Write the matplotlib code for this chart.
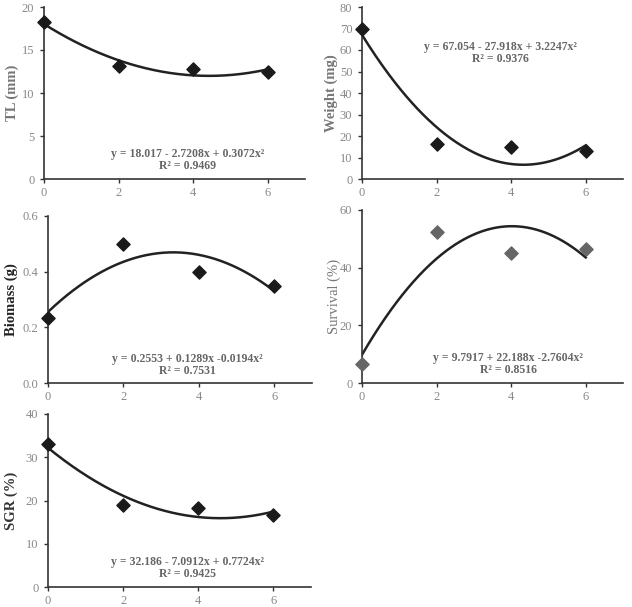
import matplotlib.pyplot as plt
import numpy as np

plt.rcParams['font.family'] = ['Liberation Serif', 'DejaVu Serif']

doses = [0, 2, 4, 6]

tl_vals = [18.3, 13.1, 12.8, 12.5]
weight_vals = [69.8, 16.2, 15.0, 12.8]
biomass_vals = [0.235, 0.50, 0.40, 0.35]
survival_vals = [6.5, 52.5, 45.0, 46.5]
sgr_vals = [33.0, 19.0, 18.2, 16.7]

# fitted quadratic coefficients (a, b, c) for y = a + b x + c x^2
tl_fit = [18.017, -2.7208, 0.3072]
weight_fit = [67.054, -27.918, 3.2247]
biomass_fit = [0.2553, 0.1289, -0.0194]
survival_fit = [9.7917, 22.188, -2.7604]
sgr_fit = [32.186, -7.0912, 0.7724]

tl_eq = 'y = 18.017 - 2.7208x + 0.3072x²\nR² = 0.9469'
weight_eq = 'y = 67.054 - 27.918x + 3.2247x²\nR² = 0.9376'
biomass_eq = 'y = 0.2553 + 0.1289x -0.0194x²\nR² = 0.7531'
survival_eq = 'y = 9.7917 + 22.188x -2.7604x²\nR² = 0.8516'
sgr_eq = 'y = 32.186 - 7.0912x + 0.7724x²\nR² = 0.9425'

W, H = 632, 607
fig = plt.figure(figsize=(W / 100, H / 100), dpi=100)


def px_axes(left, right, top, bottom):
    return fig.add_axes([left / W, 1 - bottom / H, (right - left) / W, (bottom - top) / H])


panels = [
    # box, values, fit, eq, ylim, yticks, fmt, ylabel, label color, label weight, label x, marker color, eq pos
    ((44, 305, 7, 179), tl_vals, tl_fit, tl_eq, 20, [0, 5, 10, 15, 20], '{:g}',
     'TL (mm)', '#777777', 'bold', -0.123, '#1a1a1a', (0.55, 0.11)),
    ((362, 623, 7, 179), weight_vals, weight_fit, weight_eq, 80, list(range(0, 81, 10)), '{:g}',
     'Weight (mg)', '#777777', 'bold', -0.119, '#1a1a1a', (0.53, 0.735)),
    ((48, 312, 216, 383), biomass_vals, biomass_fit, biomass_eq, 0.6, [0, 0.2, 0.4, 0.6], '{:.1f}',
     'Biomass (g)', '#222222', 'bold', -0.14, '#1a1a1a', (0.527, 0.108)),
    ((362, 623, 210, 383), survival_vals, survival_fit, survival_eq, 60, [0, 20, 40, 60], '{:g}',
     'Survival (%)', '#777777', 'normal', -0.108, '#666666', (0.56, 0.11)),
    ((48, 311, 414, 587), sgr_vals, sgr_fit, sgr_eq, 40, [0, 10, 20, 30, 40], '{:g}',
     'SGR (%)', '#333333', 'bold', -0.14, '#1a1a1a', (0.53, 0.107)),
]

xs = np.linspace(0, 6, 200)
for box, vals, fit, eq, ymax, yticks, fmt, ylabel, lcol, lw, lx, mcol, epos in panels:
    ax = px_axes(*box)
    a, b, c = fit
    ax.plot(xs, a + b * xs + c * xs ** 2, color='#222222', lw=1.8, zorder=2)
    ax.scatter(doses, vals, marker='D', s=45, color=mcol, zorder=3, clip_on=False)
    ax.set_xlim(0, 7)
    ax.set_ylim(0, ymax)
    ax.set_xticks([0, 2, 4, 6])
    ax.set_yticks(yticks)
    ax.set_yticklabels([fmt.format(t) for t in yticks])
    for s in ['top', 'right']:
        ax.spines[s].set_visible(False)
    for s in ['left', 'bottom']:
        ax.spines[s].set_color('#333333')
        ax.spines[s].set_linewidth(1.2)
    ax.tick_params(axis='both', direction='out', length=3, width=1, color='#333333',
                   labelsize=9, labelcolor='#888888', pad=4)
    ax.tick_params(axis='x', pad=3)
    ax.set_ylabel(ylabel, fontsize=10.5, color=lcol, fontweight=lw, va='center')
    ax.yaxis.set_label_coords(lx, 0.5)
    ax.text(epos[0], epos[1], eq, transform=ax.transAxes, ha='center', va='center',
            multialignment='center', linespacing=1.0,
            fontsize=8.5, fontweight='bold', color='#666666')

fig.savefig('out.png', dpi=100)
